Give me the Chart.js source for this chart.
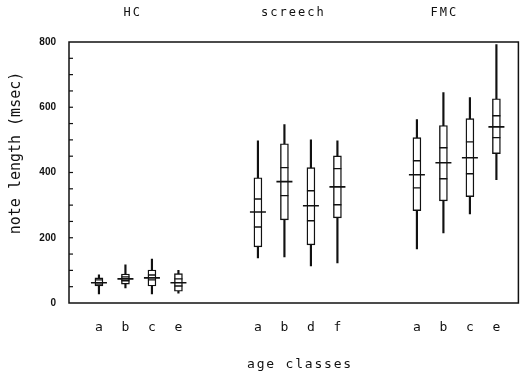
<!DOCTYPE html>
<html>
<head>
<meta charset="utf-8">
<script src="https://cdn.jsdelivr.net/npm/chart.js@4"></script>
<style>
  html, body { margin: 0; padding: 0; background: #fff; }
  #wrap { width: 528px; height: 378px; position: relative; }
</style>
</head>
<body>
<div id="wrap"><canvas id="notes"></canvas></div>
<script>
// age class slots on the x axis (gaps of two slots between call types)
const positions = [0, 1, 2, 3, 6, 7, 8, 9, 12, 13, 14, 15];
const classLabels = ['a', 'b', 'c', 'e', 'a', 'b', 'd', 'f', 'a', 'b', 'c', 'e'];
const groups = ['HC', 'screech', 'FMC'];
const groupCenters = [1.24, 7.3, 13.0];

// note length in msec
const whiskerLow  = [28, 46, 28, 30, 138, 141, 114, 123, 166, 215, 273, 378];
const whiskerHigh = [86, 117, 135, 100, 497, 547, 500, 497, 562, 645, 630, 792];
const boxLow      = [52, 58, 52, 36, 172, 255, 178, 261, 283, 313, 326, 458];
const boxHigh     = [77, 89, 101, 90, 384, 488, 415, 451, 507, 544, 565, 626];
const innerLow    = [58, 68, 71, 52, 233, 329, 252, 301, 353, 381, 396, 507];
const innerHigh   = [71, 80, 86, 74, 319, 415, 344, 412, 436, 476, 494, 574];
const means       = [62, 74, 77, 62, 279, 372, 298, 356, 393, 430, 445, 540];

const ink = '#111';
const mono = '"DejaVu Sans Mono", monospace';

const whiskers = positions.map((x, i) => ({ x: x, y: [whiskerLow[i], whiskerHigh[i]] }));
const boxes = positions.map((x, i) => ({ x: x, y: [boxLow[i], boxHigh[i]] }));
const inner = positions.flatMap((x, i) => [{ x: x, y: innerLow[i] }, { x: x, y: innerHigh[i] }]);
const meanPts = positions.map((x, i) => ({ x: x, y: means[i] }));

// frame, inward minor ticks and the free-standing texts
const decor = {
  id: 'decor',
  afterDraw(chart) {
    const ctx = chart.ctx;
    const a = chart.chartArea;
    const xs = chart.scales.x, ys = chart.scales.y;
    ctx.save();
    ctx.strokeStyle = ink;
    ctx.lineWidth = 1.5;
    ctx.strokeRect(a.left, a.top, a.right - a.left, a.bottom - a.top);
    ctx.lineWidth = 1.2;
    for (let v = 50; v < 800; v += 50) {
      const y = ys.getPixelForValue(v);
      ctx.beginPath();
      ctx.moveTo(a.left, y);
      ctx.lineTo(a.left + 4, y);
      ctx.stroke();
    }
    ctx.fillStyle = ink;
    ctx.textAlign = 'center';
    ctx.textBaseline = 'middle';
    ctx.font = '12px ' + mono;
    ctx.letterSpacing = '2px';
    groups.forEach((g, i) => {
      ctx.fillText(g, xs.getPixelForValue(groupCenters[i]) + 1, 13);
    });
    ctx.font = '13px ' + mono;
    ctx.letterSpacing = '1.8px';
    ctx.fillText('age classes', 300, 365);
    ctx.letterSpacing = '0px';
    ctx.translate(16, 153);
    ctx.rotate(-Math.PI / 2);
    ctx.font = '15px ' + mono;
    ctx.fillText('note length (msec)', 0, 0);
    ctx.restore();
  }
};

const ctx = document.getElementById('notes').getContext('2d');

new Chart(ctx, {
  type: 'bar',
  data: {
    datasets: [
      {
        type: 'scatter',
        data: meanPts,
        pointStyle: 'line',
        radius: 8,
        borderWidth: 1.6,
        borderColor: ink,
        order: 1
      },
      {
        type: 'scatter',
        data: inner,
        pointStyle: 'line',
        radius: 4,
        borderWidth: 1.4,
        borderColor: ink,
        order: 1
      },
      {
        data: boxes,
        backgroundColor: '#fff',
        borderColor: ink,
        borderWidth: 1.4,
        borderSkipped: false,
        barThickness: 8,
        grouped: false,
        order: 2
      },
      {
        data: whiskers,
        backgroundColor: ink,
        borderWidth: 0,
        barThickness: 1.5,
        grouped: false,
        order: 3
      }
    ]
  },
  options: {
    responsive: true,
    maintainAspectRatio: false,
    animation: false,
    layout: { padding: { top: 42, right: 7, left: 0, bottom: 0 } },
    plugins: {
      legend: { display: false },
      tooltip: { enabled: false }
    },
    scales: {
      x: {
        type: 'linear',
        offset: false,
        min: -1.13,
        max: 15.83,
        afterBuildTicks: (scale) => {
          scale.ticks = positions.map(v => ({ value: v }));
        },
        afterFit: (scale) => { scale.height = 75; },
        grid: { display: false, drawTicks: false, offset: false },
        border: { display: false },
        ticks: {
          autoSkip: false,
          maxRotation: 0,
          padding: 17,
          color: ink,
          font: { family: mono, size: 13 },
          callback: (v) => {
            const i = positions.indexOf(v);
            return i >= 0 ? classLabels[i] : '';
          }
        }
      },
      y: {
        min: 0,
        max: 800,
        afterFit: (scale) => { scale.width = 69; },
        grid: { display: false, drawTicks: false },
        border: { display: false },
        ticks: {
          stepSize: 200,
          padding: 13,
          color: ink,
          font: { family: '"Liberation Sans", Arial, sans-serif', size: 10, weight: 'bold' }
        }
      }
    }
  },
  plugins: [decor]
});
</script>
</body>
</html>
